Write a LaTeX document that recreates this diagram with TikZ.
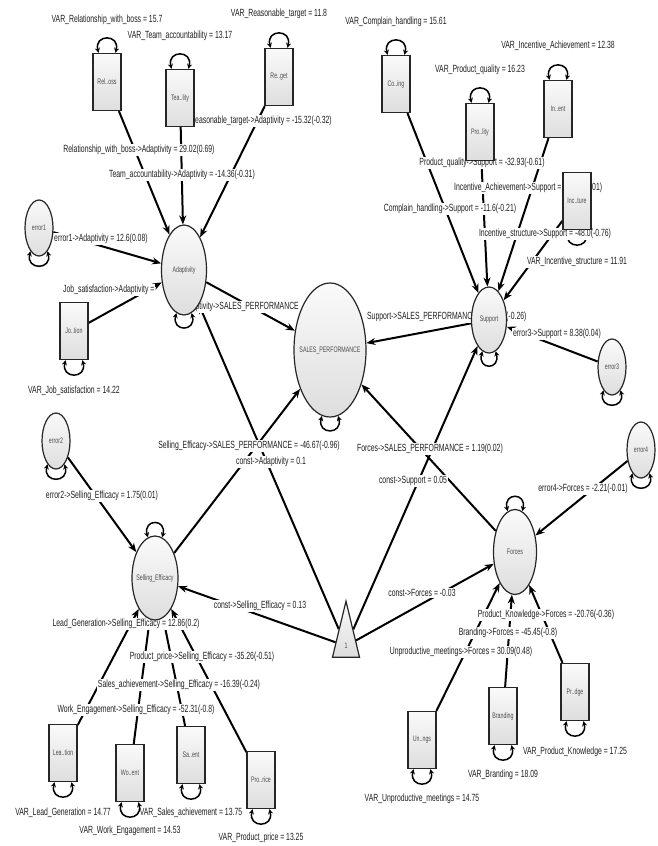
\documentclass[tikz,border=0pt]{standalone}
\usepackage{fontspec}
\setmainfont{Liberation Sans}[FakeStretch=0.66]
\usetikzlibrary{shapes.geometric,arrows.meta}
\pgfdeclarelayer{bglayer}
\pgfdeclarelayer{edgelayer}
\pgfdeclarelayer{labellayer}
\pgfsetlayers{bglayer,edgelayer,labellayer,main}

\tikzset{
  obs/.style={rectangle, draw=black!85, line width=1.3pt, minimum width=28pt,
    minimum height=57pt, inner sep=0pt, top color=black!2, bottom color=black!13,
    font=\fontsize{8}{9}\selectfont, text=black!70},
  lat/.style={ellipse, draw=black!85, line width=1.2pt, inner sep=0pt,
    top color=black!2, bottom color=black!13,
    font=\fontsize{8}{9}\selectfont, text=black!70},
  errv/.style={lat, minimum width=28pt, minimum height=56pt},
  lbl/.style={fill=white, inner sep=1pt, font=\fontsize{10.4}{11}\selectfont, text=black!88},
  arr/.style={draw=black, line width=2pt, -{Stealth[length=9pt,width=7pt]}},
  vloop/.style={draw=black, line width=1.5pt, {Stealth[length=5pt,width=5pt]}-{Stealth[length=5pt,width=5pt]}},
}
% variance loops above / below a node, between two border anchors
\newcommand\looptop[3]{\draw[vloop] (#1.#2) .. controls +(-5,-19) and +(5,-19) .. (#1.#3);}
\newcommand\loopbot[3]{\draw[vloop] (#1.#2) .. controls +(-5,19) and +(5,19) .. (#1.#3);}

\begin{document}
\begin{tikzpicture}[x=1pt,y=-1pt]
\begin{pgfonlayer}{bglayer}
  \fill[white] (0,0) rectangle (658,846);
\end{pgfonlayer}
\useasboundingbox (0,0) rectangle (658,846);

% ---------- observed indicators ----------
\node[obs] (rel) at (107,82)  {\makebox[0pt]{Rel..oss}};
\node[obs] (tea) at (180,98)  {\makebox[0pt]{Tea..lity}};
\node[obs] (reg) at (279,77)  {\makebox[0pt]{Re..get}};
\node[obs] (job) at (74,331)  {\makebox[0pt]{Jo..tion}};
\node[obs] (coi) at (396,84)  {\makebox[0pt]{Co..ing}};
\node[obs] (prq) at (480,132) {\makebox[0pt]{Pro..lity}};
\node[obs] (ina) at (558,109) {\makebox[0pt]{In..ent}};
\node[obs] (ins) at (577,201) {\makebox[0pt]{Inc..ture}};
\node[obs] (lea) at (63,753)  {\makebox[0pt]{Lea..tion}};
\node[obs] (wor) at (130,773) {\makebox[0pt]{Wo..ent}};
\node[obs] (sal) at (191,755) {\makebox[0pt]{Sa..ent}};
\node[obs] (prp) at (261,780) {\makebox[0pt]{Pro..rice}};
\node[obs] (unp) at (422,740) {\makebox[0pt]{Un..ngs}};
\node[obs] (bra) at (503,716) {\makebox[0pt]{Branding}};
\node[obs] (prk) at (575,692) {\makebox[0pt]{Pr..dge}};

% ---------- latent variables ----------
\node[lat, minimum width=45pt, minimum height=90pt]  (adapt) at (184,270) {\makebox[0pt]{Adaptivity}};
\node[lat, minimum width=72pt, minimum height=134pt] (sp)    at (330,350) {\makebox[0pt]{SALES\_PERFORMANCE}};
\node[lat, minimum width=35pt, minimum height=66pt]  (supp)  at (489,320) {\makebox[0pt]{Support}};
\node[lat, minimum width=46pt, minimum height=84pt]  (se)    at (155,578) {\makebox[0pt]{Selling\_Efficacy}};
\node[lat, minimum width=43pt, minimum height=85pt]  (forc)  at (515,552) {\makebox[0pt]{Forces}};
\node[errv] (e1) at (39,228)  {\makebox[0pt]{error1}};
\node[errv] (e2) at (56,441)  {\makebox[0pt]{error2}};
\node[errv] (e3) at (612,367) {\makebox[0pt]{error3}};
\node[errv] (e4) at (641,450) {\makebox[0pt]{error4}};

% ---------- constant ----------
\node[isosceles triangle, shape border rotate=90, isosceles triangle stretches,
  minimum width=27pt, minimum height=56pt, inner sep=0pt, draw=black!85,
  line width=1.2pt, top color=black!2, bottom color=black!13,
  font=\fontsize{8}{9}\selectfont, text=black!70] (one) at (346,646) {1};

% ---------- variance loops ----------
\looptop{rel}{106}{74}
\looptop{tea}{106}{74}
\looptop{reg}{106}{74}
\loopbot{job}{254}{286}
\looptop{coi}{106}{74}
\looptop{prq}{106}{74}
\looptop{ina}{106}{74}
\loopbot{lea}{254}{286}
\loopbot{wor}{254}{286}
\loopbot{sal}{254}{286}
\loopbot{prp}{254}{286}
\loopbot{unp}{254}{286}
\loopbot{bra}{254}{286}
\loopbot{prk}{254}{286}
\loopbot{adapt}{260}{280}
\loopbot{sp}{263}{277}
\loopbot{supp}{258}{282}
\looptop{se}{100}{80}
\looptop{forc}{100}{80}
\loopbot{e1}{250}{290}
\loopbot{e2}{250}{290}
\loopbot{e3}{250}{290}
\loopbot{e4}{250}{290}

\begin{pgfonlayer}{edgelayer}
  \loopbot{ins}{254}{286}
  \draw[arr] (rel) -- (adapt);
  \draw[arr] (tea) -- (adapt);
  \draw[arr] (reg) -- (adapt);
  \draw[arr] (e1) -- (adapt);
  \draw[arr] (job) -- (adapt);
  \draw[arr] (coi) -- (supp);
  \draw[arr] (prq) -- (supp);
  \draw[arr] (ina) -- (supp);
  \draw[arr] (ins) -- (supp);
  \draw[arr] (e3) -- (supp);
  \draw[arr] (adapt) -- (sp);
  \draw[arr] (supp) -- (sp);
  \draw[arr] (se) -- (sp);
  \draw[arr] (forc) -- (sp);
  \draw[arr] (one) -- (adapt);
  \draw[arr] (one) -- (supp);
  \draw[arr] (one) -- (se);
  \draw[arr] (one) -- (forc);
  \draw[arr] (e2) -- (se);
  \draw[arr] (lea) -- (se);
  \draw[arr] (wor) -- (se);
  \draw[arr] (sal) -- (se);
  \draw[arr] (prp) -- (se);
  \draw[arr] (e4) -- (forc);
  \draw[arr] (unp) -- (forc);
  \draw[arr] (bra) -- (forc);
  \draw[arr] (prk) -- (forc);
\end{pgfonlayer}

\begin{pgfonlayer}{labellayer}
  \node[lbl] (v1) at (107,20) {VAR\_Relationship\_with\_boss = 15.7};
  \node[lbl] (v2) at (180,36) {VAR\_Team\_accountability = 13.17};
  \node[lbl] (v3) at (279,14) {VAR\_Reasonable\_target = 11.8};
  \node[lbl, anchor=east] (p1) at (333,121) {Reasonable\_target->Adaptivity = -15.32(-0.32)};
  \node[lbl] (p2) at (139,150) {Relationship\_with\_boss->Adaptivity = 29.02(0.69)};
  \node[lbl] (p3) at (182,175) {Team\_accountability->Adaptivity = -14.36(-0.31)};
  \node[lbl, anchor=west] (p4) at (53,239) {error1->Adaptivity = 12.6(0.08)};
  \node[lbl, anchor=west] (p5) at (62,290) {Job\_satisfaction->Adaptivity =};
  \node[lbl, anchor=east] (p6) at (300,307) {Adaptivity->SALES\_PERFORMANCE};
  \node[lbl] (v4) at (74,391) {VAR\_Job\_satisfaction = 14.22};
  \node[lbl] (v5) at (396,22) {VAR\_Complain\_handling = 15.61};
  \node[lbl] (v6) at (480,70) {VAR\_Product\_quality = 16.23};
  \node[lbl] (v7) at (558,46) {VAR\_Incentive\_Achievement = 12.38};
  \node[lbl] (p7) at (482,163) {Product\_quality->Support = -32.93(-0.61)};
  \node[lbl, anchor=west] (p8) at (453,188) {Incentive\_Achievement->Support =};
  \node[lbl, anchor=west] (p8b) at (591,188) {01)};
  \node[lbl] (p9) at (450,209) {Complain\_handling->Support = -11.6(-0.21)};
  \node[lbl] (p10) at (545,234) {Incentive\_structure->Support = -48.0(-0.76)};
  \node[lbl] (v8) at (577,262) {VAR\_Incentive\_structure = 11.91};
  \node[lbl, anchor=east] (p11) at (478,317) {Support->SALES\_PERFORMANCE};
  \node[lbl, anchor=west] (p11b) at (505,317) {(-0.26)};
  \node[lbl, anchor=east] (p12) at (602,334) {error3->Support = 8.38(0.04)};
  \node[lbl] (p13) at (249,446) {Selling\_Efficacy->SALES\_PERFORMANCE = -46.67(-0.96)};
  \node[lbl] (p14) at (271,462) {const->Adaptivity = 0.1};
  \node[lbl] (p15) at (430,449) {Forces->SALES\_PERFORMANCE = 1.19(0.02)};
  \node[lbl] (p16) at (413,481) {const->Support = 0.05};
  \node[lbl] (p17) at (102,496) {error2->Selling\_Efficacy = 1.75(0.01)};
  \node[lbl] (p18) at (583,489) {error4->Forces = -2.21(-0.01)};
  \node[lbl] (p19) at (260,606) {const->Selling\_Efficacy = 0.13};
  \node[lbl] (p20) at (422,593) {const->Forces = -0.03};
  \node[lbl] (p21) at (546,615) {Product\_Knowledge->Forces = -20.76(-0.36)};
  \node[lbl] (p22) at (508,633) {Branding->Forces = -45.45(-0.8)};
  \node[lbl] (p23) at (461,652) {Unproductive\_meetings->Forces = 30.09(0.48)};
  \node[lbl] (p24) at (126,624) {Lead\_Generation->Selling\_Efficacy = 12.86(0.2)};
  \node[lbl] (p25) at (202,657) {Product\_price->Selling\_Efficacy = -35.26(-0.51)};
  \node[lbl] (p26) at (179,685) {Sales\_achievement->Selling\_Efficacy = -16.39(-0.24)};
  \node[lbl] (p27) at (136,710) {Work\_Engagement->Selling\_Efficacy = -52.31(-0.8)};
  \node[lbl] (v9) at (63,813) {VAR\_Lead\_Generation = 14.77};
  \node[lbl] (v10) at (130,831) {VAR\_Work\_Engagement = 14.53};
  \node[lbl] (v11) at (191,813) {VAR\_Sales\_achievement = 13.75};
  \node[lbl] (v12) at (261,838) {VAR\_Product\_price = 13.25};
  \node[lbl] (v13) at (422,799) {VAR\_Unproductive\_meetings = 14.75};
  \node[lbl] (v14) at (503,775) {VAR\_Branding = 18.09};
  \node[lbl] (v15) at (575,752) {VAR\_Product\_Knowledge = 17.25};
\end{pgfonlayer}
\end{tikzpicture}
\end{document}
